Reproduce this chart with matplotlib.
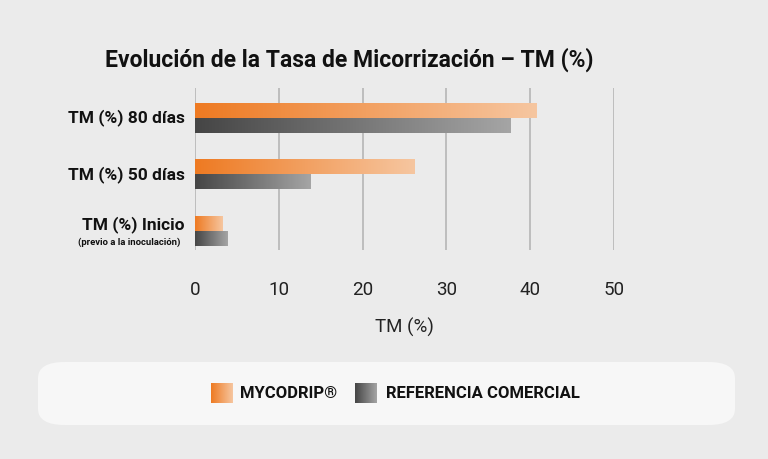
import numpy as np
import matplotlib
matplotlib.use("Agg")
import matplotlib.pyplot as plt
from matplotlib.colors import LinearSegmentedColormap
from matplotlib.patches import FancyBboxPatch

categories = ["TM (%) Inicio", "TM (%) 50 días", "TM (%) 80 días"]
subnote = "(previo a la inoculación)"
mycodrip = [3.3, 26.2, 40.8]
referencia = [3.9, 13.8, 37.7]
xticks = [0, 10, 20, 30, 40, 50]
series_names = ["MYCODRIP®", "REFERENCIA COMERCIAL"]

plt.rcParams["font.family"] = "Roboto"
bg = "#ebebeb"
fig = plt.figure(figsize=(7.68, 4.59), dpi=100, facecolor=bg)
ax = fig.add_axes([195/768, 1-250/459, 419/768, 162/459])
ax.set_facecolor(bg)

cm_or = LinearSegmentedColormap.from_list("o", ["#ee7a22", "#f6c6a0"])
cm_gr = LinearSegmentedColormap.from_list("g", ["#454545", "#a5a5a5"])
grad = np.linspace(0, 1, 256).reshape(1, -1)
h = 0.26
for i in range(len(categories)):
    ax.imshow(grad, cmap=cm_or, aspect="auto", extent=[0, mycodrip[i], i, i + h], zorder=3)
    ax.imshow(grad, cmap=cm_gr, aspect="auto", extent=[0, referencia[i], i - h, i], zorder=3)

ax.set_xlim(0, 50)
ax.set_ylim(-0.336, 2.53)
ax.set_xticks(xticks)
ax.set_xticklabels([str(t) for t in xticks], fontsize=13.5, color="#222")
ax.tick_params(axis="x", length=0, pad=22)
ax.set_yticks([])
for s in ax.spines.values():
    s.set_visible(False)
ax.grid(axis="x", color="#b5b5b5", lw=1.2, zorder=0)
ax.set_xlabel("TM (%)", fontsize=13.5, color="#222", labelpad=14)

for i, c in enumerate(categories):
    yoff = 0.12 if i == 0 else 0
    ax.text(-1.2, i + yoff, c, ha="right", va="center", fontsize=12.5, fontweight="bold", color="#111")
ax.text(-1.8, -0.2, subnote, ha="right", va="center", fontsize=6.8, fontweight="bold", color="#111")

fig.text(0.455, 1-60/459, "Evolución de la Tasa de Micorrización – TM (%)", ha="center", va="center",
         fontsize=16.5, fontweight="bold", color="#111")

box = FancyBboxPatch((38/768, 1-425/459), 697/768, 63/459, boxstyle="round,pad=0,rounding_size=0.035",
                     transform=fig.transFigure, facecolor="#f7f7f7", edgecolor="none", zorder=-1)
fig.patches.append(box)

lax1 = fig.add_axes([211/768, 1-403/459, 22/768, 20/459], zorder=5)
lax1.imshow(grad, cmap=cm_or, aspect="auto")
lax1.axis("off")
lax2 = fig.add_axes([355/768, 1-403/459, 22/768, 20/459], zorder=5)
lax2.imshow(grad, cmap=cm_gr, aspect="auto")
lax2.axis("off")
fig.text(240/768, 1-393/459, series_names[0], va="center", fontsize=12, fontweight="bold", color="#111", zorder=6)
fig.text(386/768, 1-393/459, series_names[1], va="center", fontsize=12, fontweight="bold", color="#111", zorder=6)

fig.savefig("out.png", dpi=100, facecolor=bg)
